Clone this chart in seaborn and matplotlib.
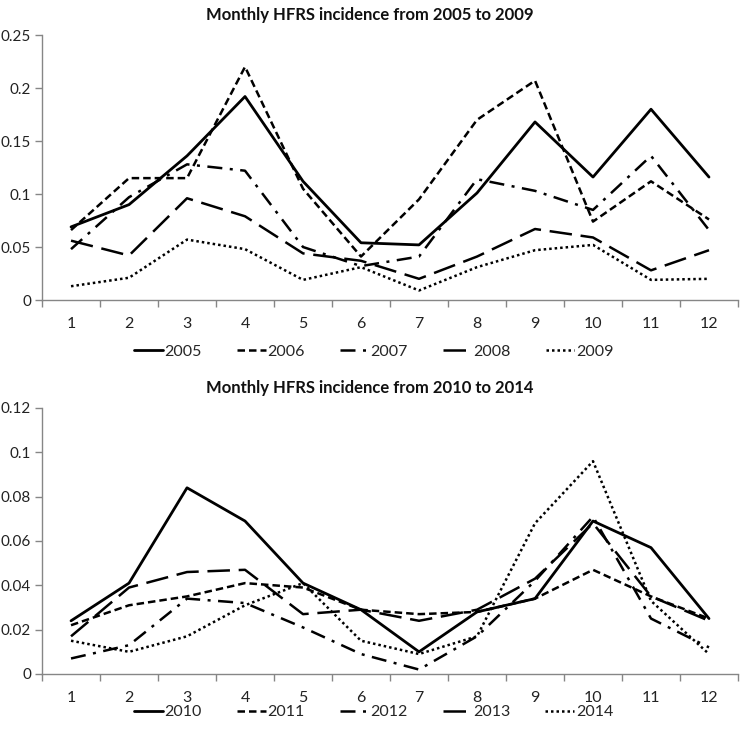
import matplotlib
matplotlib.use("Agg")
import matplotlib.pyplot as plt
import matplotlib.ticker as mticker
import seaborn as sns
import pandas as pd
import numpy as np

months = ["1", "2", "3", "4", "5", "6", "7", "8", "9", "10", "11", "12"]

years_a = ["2005", "2006", "2007", "2008", "2009"]
y2005 = [0.069, 0.090, 0.136, 0.192, 0.112, 0.054, 0.052, 0.101, 0.168, 0.116, 0.180, 0.116]
y2006 = [0.066, 0.115, 0.115, 0.220, 0.105, 0.041, 0.095, 0.170, 0.207, 0.074, 0.112, 0.076]
y2007 = [0.048, 0.097, 0.128, 0.122, 0.050, 0.032, 0.041, 0.114, 0.103, 0.085, 0.136, 0.066]
y2008 = [0.056, 0.042, 0.096, 0.079, 0.044, 0.037, 0.020, 0.041, 0.067, 0.059, 0.028, 0.047]
y2009 = [0.013, 0.021, 0.057, 0.048, 0.019, 0.031, 0.009, 0.031, 0.047, 0.052, 0.019, 0.020]

years_b = ["2010", "2011", "2012", "2013", "2014"]
y2010 = [0.024, 0.041, 0.084, 0.069, 0.041, 0.029, 0.010, 0.028, 0.034, 0.069, 0.057, 0.025]
y2011 = [0.022, 0.031, 0.035, 0.041, 0.039, 0.029, 0.027, 0.028, 0.034, 0.047, 0.035, 0.025]
y2012 = [0.007, 0.013, 0.034, 0.032, 0.021, 0.009, 0.002, 0.017, 0.042, 0.071, 0.025, 0.012]
y2013 = [0.017, 0.039, 0.046, 0.047, 0.027, 0.029, 0.024, 0.029, 0.043, 0.068, 0.035, 0.024]
y2014 = [0.015, 0.010, 0.017, 0.031, 0.041, 0.015, 0.009, 0.017, 0.068, 0.096, 0.033, 0.009]

title_a = "Monthly HFRS incidence from 2005 to 2009"
title_b = "Monthly HFRS incidence from 2010 to 2014"

sns.set_theme(style="white")
plt.rcParams["font.family"] = ["Lato", "DejaVu Sans"]

dash_styles = [
    (None, 2.0),
    ((3.0, 1.6), 1.8),
    ((6.0, 3.0, 1.2, 3.0), 1.8),
    ((9.0, 3.5), 1.8),
    ((1.0, 1.2), 1.8),
]

fig = plt.figure(figsize=(7.40, 7.33), dpi=100)
ax1 = fig.add_axes([0.0568, 0.5907, 0.9405, 0.3615])
ax2 = fig.add_axes([0.0568, 0.0805, 0.9405, 0.3629])

def fmt(v, p):
    if abs(v) < 1e-12:
        return "0"
    return f"{v:.2f}".rstrip("0").rstrip(".")

def draw(ax, years, series, ymax, ystep, title, title_y, leg_y):
    x = np.arange(len(months))
    handles = []
    for yr, vals, (dash, lw) in zip(years, series, dash_styles):
        df = pd.DataFrame({"m": x, "v": vals})
        sns.lineplot(data=df, x="m", y="v", ax=ax, color="black", linewidth=lw, legend=False)
        ln = ax.lines[-1]
        if dash is not None:
            ln.set_dashes(dash)
        handles.append(ln)
    if ax.get_legend() is not None:
        ax.get_legend().remove()
    ax.set_xlim(-0.5, len(months) - 0.5)
    ax.set_ylim(0, ymax)
    ax.set_xticks(x)
    ax.set_xticklabels(months)
    ax.set_xticks(np.arange(-0.5, len(months)), minor=True)
    ax.tick_params(axis="x", which="major", length=0, pad=12, labelsize=11.5, colors="#222222")
    ax.tick_params(axis="x", which="minor", length=5, width=1, color="#868686", direction="out", bottom=True)
    ax.set_yticks(np.arange(0, ymax + ystep / 2, ystep))
    ax.yaxis.set_major_formatter(mticker.FuncFormatter(fmt))
    ax.tick_params(axis="y", length=5, width=1, direction="out", left=True, labelsize=11, labelcolor="#222222", color="#868686", pad=3)
    ax.set_xlabel("")
    ax.set_ylabel("")
    for s in ["top", "right"]:
        ax.spines[s].set_visible(False)
    for s in ["left", "bottom"]:
        ax.spines[s].set_color("#868686")
        ax.spines[s].set_linewidth(1)
    ax.grid(False)
    fig.text(0.5, title_y, title, ha="center", va="center", fontsize=12, fontweight="bold", color="#111111")
    fig.legend(handles=handles, labels=years, loc="center", bbox_to_anchor=(0.505, leg_y), ncol=5,
               frameon=False, fontsize=11.5, handlelength=1.8, handletextpad=0.1, columnspacing=2.2)

draw(ax1, years_a, [y2005, y2006, y2007, y2008, y2009], 0.25, 0.05, title_a, 0.9795, 0.5198)
draw(ax2, years_b, [y2010, y2011, y2012, y2013, y2014], 0.12, 0.02, title_b, 0.4707, 0.0286)

fig.savefig("out.png", dpi=100)
